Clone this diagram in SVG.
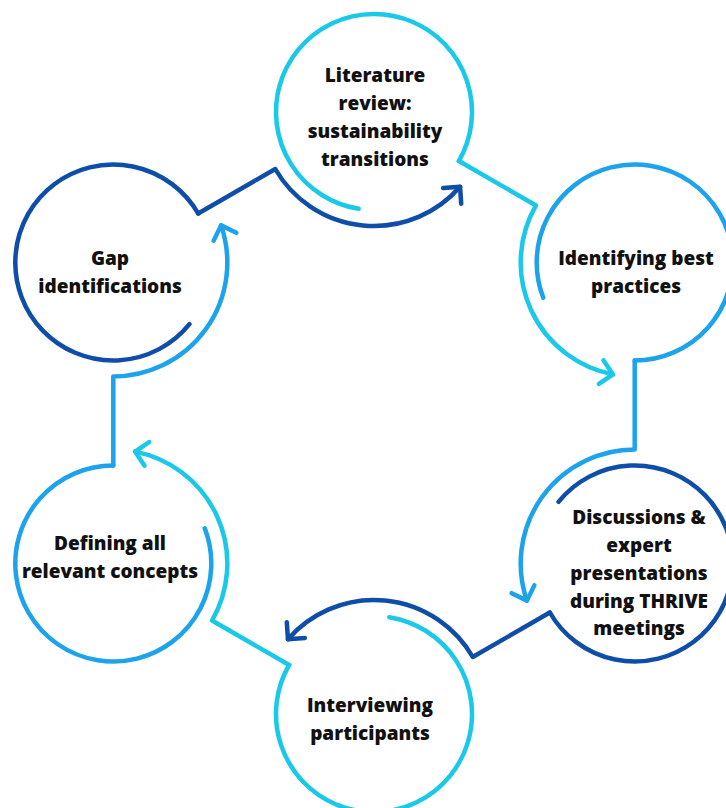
<svg xmlns="http://www.w3.org/2000/svg" width="726" height="808" viewBox="0 0 726 808">
<style>
.ln{fill:none;stroke-width:4.5;stroke-linecap:round;stroke-linejoin:round}
.cy{stroke:#1AC8E7}
.mb{stroke:#1CA3EC}
.db{stroke:#0F4EA8}
.t{font-family:"Open Sans",Lato,"Liberation Sans",sans-serif;font-weight:800;font-size:19px;fill:#111;text-anchor:middle}
</style>
<defs>
<marker id="acy" markerUnits="userSpaceOnUse" orient="auto" markerWidth="30" markerHeight="30" overflow="visible"><path d="M-12,-12 L0,0 L-12,12" fill="none" stroke="#1AC8E7" stroke-width="4.5" stroke-linecap="round" stroke-linejoin="round"/></marker>
<marker id="amb" markerUnits="userSpaceOnUse" orient="auto" markerWidth="30" markerHeight="30" overflow="visible"><path d="M-12,-12 L0,0 L-12,12" fill="none" stroke="#1CA3EC" stroke-width="4.5" stroke-linecap="round" stroke-linejoin="round"/></marker>
<marker id="adb" markerUnits="userSpaceOnUse" orient="auto" markerWidth="30" markerHeight="30" overflow="visible"><path d="M-12,-12 L0,0 L-12,12" fill="none" stroke="#0F4EA8" stroke-width="4.5" stroke-linecap="round" stroke-linejoin="round"/></marker>
</defs>
<rect width="726" height="808" fill="#fff"/>
<g id="n1">
<path class="ln cy" d="M358.67,208.79 A98,98 0 1 1 458.87,161"/>
<text class="t"><tspan x="375" y="82">Literature</tspan><tspan x="375" y="110">review:</tspan><tspan x="375" y="138">sustainability</tspan><tspan x="375" y="166">transitions</tspan></text>
</g>
<g id="n2">
<path class="ln mb" d="M543.21,297.62 A98,98 0 1 1 634.7,360.5"/>
<text class="t"><tspan x="636" y="265">Identifying best</tspan><tspan x="636" y="293">practices</tspan></text>
</g>
<g id="n3">
<path class="ln db" d="M558.54,501.83 A98,98 0 1 1 549.83,612.5"/>
<text class="t"><tspan x="639" y="524">Discussions &amp;</tspan><tspan x="639" y="552">expert</tspan><tspan x="639" y="580">presentations</tspan><tspan x="639" y="608">during THRIVE</tspan><tspan x="639" y="635">meetings</tspan></text>
</g>
<g id="n4">
<path class="ln cy" d="M389.33,617.21 A98,98 0 1 1 289.13,665"/>
<text class="t"><tspan x="370" y="712">Interviewing</tspan><tspan x="370" y="740">participants</tspan></text>
</g>
<g id="n5">
<path class="ln mb" d="M204.79,528.38 A98,98 0 1 1 113.3,465.5"/>
<text class="t"><tspan x="110" y="550">Defining all</tspan><tspan x="110" y="578">relevant concepts</tspan></text>
</g>
<g id="n6">
<path class="ln db" d="M189.46,324.17 A98,98 0 1 1 198.17,213.5"/>
<text class="t"><tspan x="110" y="265">Gap</tspan><tspan x="110" y="293">identifications</tspan></text>
</g>
<g id="connectors">
<path class="ln cy" marker-end="url(#acy)" d="M458.87,161 L535.97,205.5 A114,114 0 0 0 612.95,374.41"/>
<path class="ln mb" marker-end="url(#amb)" d="M634.7,360.5 L634.7,449.5 A114,114 0 0 0 526.91,600.62"/>
<path class="ln db" marker-end="url(#adb)" d="M549.83,612.5 L472.73,657 A114,114 0 0 0 287.96,639.21"/>
<path class="ln cy" marker-end="url(#acy)" d="M289.13,665 L212.03,620.5 A114,114 0 0 0 135.05,451.59"/>
<path class="ln mb" marker-end="url(#amb)" d="M113.3,465.5 L113.3,376.5 A114,114 0 0 0 221.09,225.38"/>
<path class="ln db" marker-end="url(#adb)" d="M198.17,213.5 L275.27,169 A114,114 0 0 0 460.04,186.79"/>
</g>
</svg>
